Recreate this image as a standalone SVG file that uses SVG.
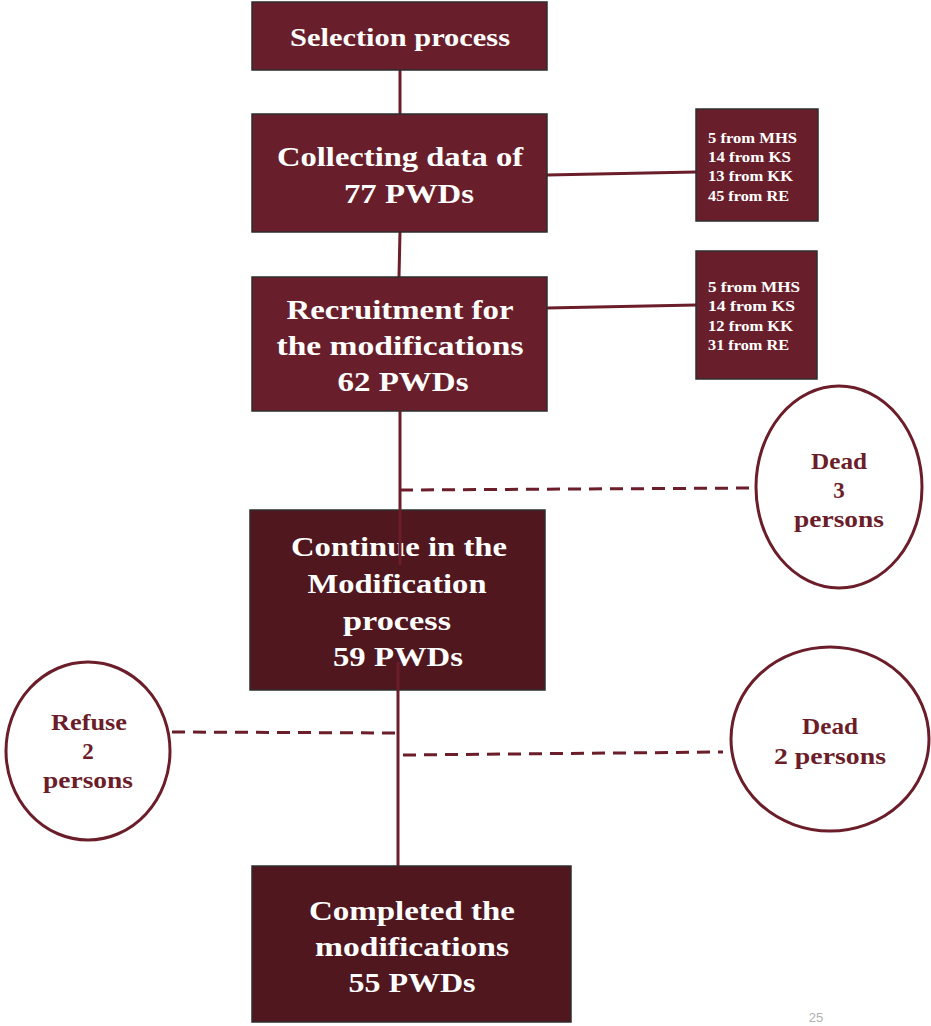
<svg xmlns="http://www.w3.org/2000/svg" width="931" height="1026" viewBox="0 0 931 1026">
<style>
.b1{fill:#691f2b;stroke:#2e2e2e;stroke-width:1.5}
.b2{fill:#50171f;stroke:#2e2e2e;stroke-width:1.5}
.t{font-family:"Liberation Serif","DejaVu Serif",serif;font-weight:bold;fill:#ffffff;text-anchor:middle}
.tb{font-size:28px}
.ts{font-size:14px;text-anchor:start}
.e{fill:#ffffff;stroke:#6b1e2a;stroke-width:3}
.et{font-family:"Liberation Serif","DejaVu Serif",serif;font-weight:bold;fill:#6b1e2a;text-anchor:middle;font-size:23px}
.c{stroke:#6b1e2a;stroke-width:3;fill:none}
.d{stroke:#6b1e2a;stroke-width:3;fill:none;stroke-dasharray:13 8}
</style>
<rect width="931" height="1026" fill="#ffffff"/>
<g id="connectors">
<line class="c" x1="400" y1="70" x2="400" y2="114"/>
<line class="c" x1="547" y1="175" x2="696" y2="172"/>
<line class="c" x1="400" y1="232" x2="399" y2="277"/>
<line class="c" x1="547" y1="308" x2="696" y2="305"/>
</g>
<g id="selection"><rect class="b1" x="252" y="2" width="295" height="68"/>
<text class="t" x="400" y="46" font-size="25" textLength="220" lengthAdjust="spacingAndGlyphs">Selection process</text></g>
<g id="collecting"><rect class="b1" x="252" y="114" width="295" height="118"/>
<text class="t tb" x="400" y="166" textLength="246" lengthAdjust="spacingAndGlyphs">Collecting data of</text>
<text class="t tb" x="409" y="203" textLength="130" lengthAdjust="spacingAndGlyphs">77 PWDs</text></g>
<g id="side1"><rect class="b1" x="696" y="109" width="122" height="112"/>
<text class="t ts" x="708" y="143" textLength="89" lengthAdjust="spacingAndGlyphs">5 from MHS</text>
<text class="t ts" x="708" y="162" textLength="83" lengthAdjust="spacingAndGlyphs">14 from KS</text>
<text class="t ts" x="708" y="181" textLength="85" lengthAdjust="spacingAndGlyphs">13 from KK</text>
<text class="t ts" x="708" y="201" textLength="81" lengthAdjust="spacingAndGlyphs">45 from RE</text></g>
<g id="recruitment"><rect class="b1" x="252" y="277" width="295" height="134"/>
<text class="t tb" x="400" y="319" textLength="227" lengthAdjust="spacingAndGlyphs">Recruitment for</text>
<text class="t tb" x="400" y="355" textLength="247" lengthAdjust="spacingAndGlyphs">the modifications</text>
<text class="t tb" x="403" y="391" textLength="131" lengthAdjust="spacingAndGlyphs">62 PWDs</text></g>
<g id="side2"><rect class="b1" x="696" y="251" width="121" height="128"/>
<text class="t ts" x="708" y="292" textLength="92" lengthAdjust="spacingAndGlyphs">5 from MHS</text>
<text class="t ts" x="708" y="311" textLength="87" lengthAdjust="spacingAndGlyphs">14 from KS</text>
<text class="t ts" x="708" y="331" textLength="85" lengthAdjust="spacingAndGlyphs">12 from KK</text>
<text class="t ts" x="708" y="350" textLength="81" lengthAdjust="spacingAndGlyphs">31 from RE</text></g>
<g id="continue"><rect class="b2" x="250" y="510" width="295" height="180"/>
<text class="t tb" x="399" y="556" textLength="216" lengthAdjust="spacingAndGlyphs">Continue in the</text>
<text class="t tb" x="397" y="593" textLength="179" lengthAdjust="spacingAndGlyphs">Modification</text>
<text class="t tb" x="397" y="630" textLength="108" lengthAdjust="spacingAndGlyphs">process</text>
<text class="t tb" x="398" y="666" textLength="130" lengthAdjust="spacingAndGlyphs">59 PWDs</text></g>
<g id="completed"><rect class="b2" x="252" y="866" width="319" height="156"/>
<text class="t tb" x="412" y="920" textLength="206" lengthAdjust="spacingAndGlyphs">Completed the</text>
<text class="t tb" x="412" y="956" textLength="194" lengthAdjust="spacingAndGlyphs">modifications</text>
<text class="t tb" x="412" y="992" textLength="127" lengthAdjust="spacingAndGlyphs">55 PWDs</text></g>
<g id="connectors2">
<line class="c" x1="400" y1="411" x2="400" y2="565"/>
<line class="d" x1="400" y1="490" x2="756" y2="488"/>
<line class="c" x1="398" y1="662" x2="398" y2="866"/>
<line class="d" x1="172" y1="732" x2="398" y2="733"/>
<line class="d" x1="403" y1="755" x2="723" y2="752"/>
</g>
<g id="dead3"><ellipse class="e" cx="839" cy="487" rx="83" ry="101"/>
<text class="et" x="839" y="469" textLength="56" lengthAdjust="spacingAndGlyphs">Dead</text>
<text class="et" x="839" y="498">3</text>
<text class="et" x="839" y="527" textLength="90" lengthAdjust="spacingAndGlyphs">persons</text></g>
<g id="refuse"><ellipse class="e" cx="88" cy="751" rx="82" ry="89"/>
<text class="et" x="89" y="730" textLength="76" lengthAdjust="spacingAndGlyphs">Refuse</text>
<text class="et" x="88" y="759">2</text>
<text class="et" x="88" y="788" textLength="90" lengthAdjust="spacingAndGlyphs">persons</text></g>
<g id="dead2"><ellipse class="e" cx="830" cy="739" rx="99" ry="92"/>
<text class="et" x="830" y="734" textLength="56" lengthAdjust="spacingAndGlyphs">Dead</text>
<text class="et" x="830" y="764" textLength="112" lengthAdjust="spacingAndGlyphs">2 persons</text></g>
<text x="816" y="1022" font-family="Liberation Sans, sans-serif" font-size="13" fill="#b0b0b0" text-anchor="middle">25</text>
</svg>
